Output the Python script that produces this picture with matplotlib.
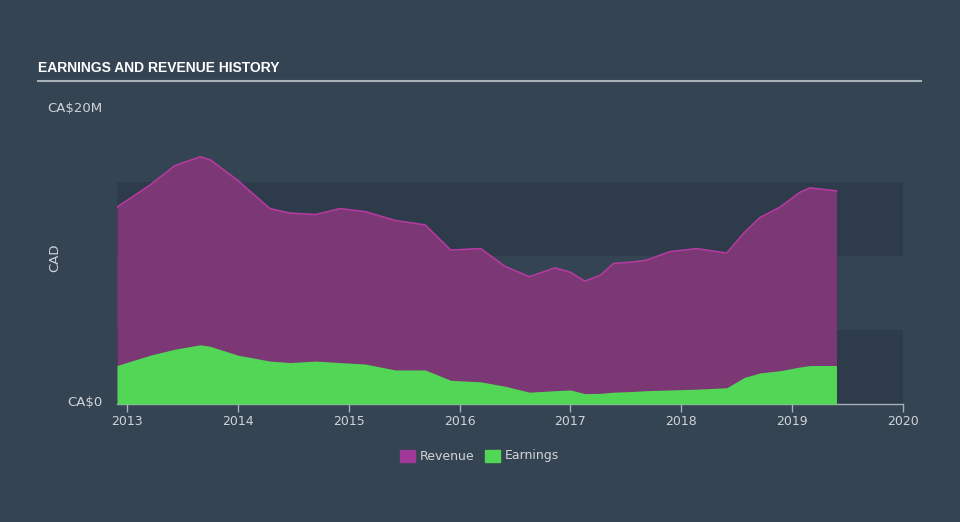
import matplotlib
matplotlib.use('Agg')
from matplotlib import pyplot as plt
from matplotlib.patches import Rectangle

# data (CA$ millions, decimal years)
years = [2012.91, 2013.21, 2013.43, 2013.66, 2013.75, 2014.0, 2014.29, 2014.47,
         2014.7, 2014.92, 2015.15, 2015.42, 2015.69, 2015.92, 2016.19, 2016.41,
         2016.63, 2016.86, 2017.0, 2017.13, 2017.27, 2017.39, 2017.57, 2017.68,
         2017.9, 2018.14, 2018.41, 2018.57, 2018.71, 2018.89, 2019.07, 2019.16,
         2019.40]
revenue = [13.3, 14.8, 16.1, 16.7, 16.5, 15.1, 13.2, 12.9,
           12.8, 13.2, 13.0, 12.4, 12.1, 10.4, 10.5, 9.3,
           8.6, 9.2, 8.9, 8.3, 8.7, 9.5, 9.6, 9.7,
           10.3, 10.5, 10.2, 11.6, 12.6, 13.3, 14.3, 14.6,
           14.4]
earnings = [2.6, 3.3, 3.7, 4.0, 3.9, 3.3, 2.9, 2.8,
            2.9, 2.8, 2.7, 2.3, 2.3, 1.6, 1.5, 1.2,
            0.8, 0.9, 0.95, 0.7, 0.72, 0.8, 0.85, 0.9,
            0.95, 1.0, 1.1, 1.8, 2.1, 2.25, 2.5, 2.6,
            2.6]
xticks = [2013, 2014, 2015, 2016, 2017, 2018, 2019, 2020]

bg = '#344453'
band = '#2d3b4a'
revfill = '#7b3874'
revline = '#b43aa0'
earnfill = '#52d655'
txt = '#d0d4d8'

fig = plt.figure(figsize=(9.6, 5.22), dpi=100, facecolor=bg)
ax = fig.add_axes([117/960, 118/522, 786/960, 296/522])
ax.set_facecolor('none')

xmin = 2012.91
xmax = 2020.0
ax.set_xlim(xmin, xmax)
ax.set_ylim(0, 20)

# horizontal bands
ax.axhspan(0, 5, color=band, zorder=0, lw=0)
ax.axhspan(10, 15, color=band, zorder=0, lw=0)

ax.fill_between(years, 0, revenue, color=revfill, lw=0, zorder=2)
ax.plot(years, revenue, color=revline, lw=1.2, zorder=3)
ax.fill_between(years, 0, earnings, color=earnfill, lw=0, zorder=4)

for s in ['top', 'right', 'left']:
    ax.spines[s].set_visible(False)
ax.spines['bottom'].set_color('#a8b0b8')
ax.spines['bottom'].set_linewidth(1)

ax.set_xticks(xticks)
ax.set_xticklabels([str(y) for y in xticks])
ax.tick_params(axis='x', colors='#a8b0b8', labelcolor=txt, length=6, width=1,
               labelsize=9, pad=2)
ax.set_yticks([])

fig.text(102/960, 1 - 108/522, 'CA\\$20M', color=txt, fontsize=9.5,
         ha='right', va='center')
fig.text(102/960, 1 - 403/522, 'CA\\$0', color=txt, fontsize=9.5,
         ha='right', va='center')
fig.text(55/960, 1 - 258/522, 'CAD', color=txt, fontsize=9.5,
         rotation=90, ha='center', va='center')

fig.text(38/960, 1 - 68/522, 'EARNINGS AND REVENUE HISTORY', color='white',
         fontsize=10, fontweight='bold', family='Liberation Sans',
         ha='left', va='center')
fig.add_artist(plt.Line2D([38/960, 921/960], [1 - 81/522, 1 - 81/522],
                          color='#a8b0b8', lw=1.5))

# legend
fig.add_artist(Rectangle((400/960, 1 - 462/522), 15/960, 12/522,
                         color='#a0389a', transform=fig.transFigure))
fig.text(420/960, 1 - 456/522, 'Revenue', color=txt, fontsize=9,
         ha='left', va='center')
fig.add_artist(Rectangle((485/960, 1 - 462/522), 15/960, 12/522,
                         color=earnfill, transform=fig.transFigure))
fig.text(505/960, 1 - 456/522, 'Earnings', color=txt, fontsize=9,
         ha='left', va='center')

plt.savefig('out.png', dpi=100, facecolor=bg)
